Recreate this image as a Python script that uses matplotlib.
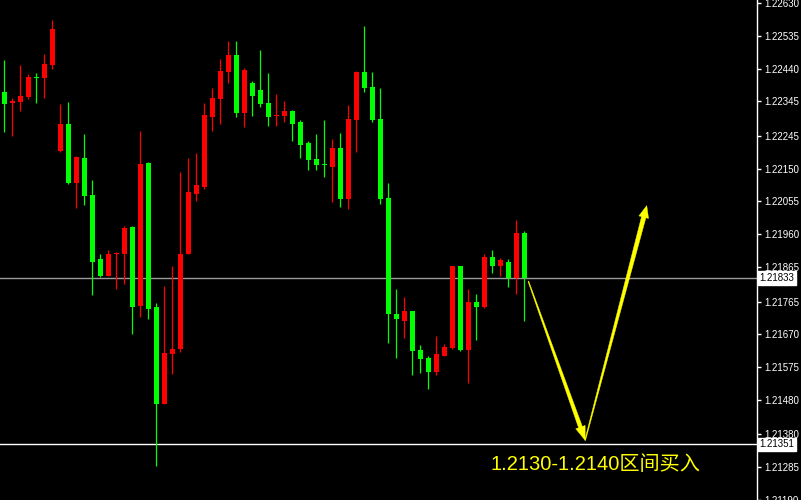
import numpy as np
import matplotlib
matplotlib.use("Agg")
import matplotlib.pyplot as plt
from matplotlib.patches import Polygon
from matplotlib.transforms import IdentityTransform

# ---- data ----
opens = [1.22373, 1.22341, 1.22344, 1.22358, 1.22416, 1.22413, 1.22451, 1.22202, 1.22280, 1.22109,
         1.22182, 1.22075, 1.21887, 1.21838, 1.21902, 1.21904, 1.21982, 1.21751, 1.22167, 1.21748,
         1.21467, 1.21612, 1.21627, 1.21904, 1.22078, 1.22098, 1.22300, 1.22352, 1.22430, 1.22480,
         1.22312, 1.22399, 1.22378, 1.22341, 1.22302, 1.22303, 1.22318, 1.22286, 1.22225, 1.22179,
         1.22163, 1.22156, 1.22211, 1.22063, 1.22292, 1.22430, 1.22387, 1.22295, 1.22066, 1.21728,
         1.21710, 1.21739, 1.21624, 1.21600, 1.21560, 1.21606, 1.21629, 1.21867, 1.21624, 1.21765,
         1.21748, 1.21895, 1.21869, 1.21881, 1.21833, 1.21965]
highs = [1.22465, 1.22355, 1.22451, 1.22425, 1.22428, 1.22483, 1.22581, 1.22338, 1.22344, 1.22188,
         1.22251, 1.22118, 1.21904, 1.21913, 1.21910, 1.21985, 1.21985, 1.22260, 1.22170, 1.21762,
         1.21809, 1.21869, 1.22141, 1.22182, 1.22196, 1.22341, 1.22384, 1.22468, 1.22520, 1.22520,
         1.22442, 1.22404, 1.22494, 1.22428, 1.22367, 1.22347, 1.22321, 1.22292, 1.22231, 1.22251,
         1.22292, 1.22237, 1.22254, 1.22335, 1.22433, 1.22564, 1.22430, 1.22384, 1.22109, 1.21800,
         1.21777, 1.21739, 1.21638, 1.21606, 1.21664, 1.21641, 1.21869, 1.21869, 1.21800, 1.21788,
         1.21904, 1.21913, 1.21890, 1.21887, 1.22002, 1.21968]
lows = [1.22257, 1.22245, 1.22318, 1.22352, 1.22341, 1.22355, 1.22439, 1.22199, 1.22107, 1.22037,
        1.22046, 1.21783, 1.21835, 1.21838, 1.21800, 1.21815, 1.21670, 1.21719, 1.21713, 1.21288,
        1.21467, 1.21554, 1.21618, 1.21904, 1.22057, 1.22092, 1.22260, 1.22280, 1.22399, 1.22300,
        1.22271, 1.22303, 1.22329, 1.22274, 1.22274, 1.22286, 1.22231, 1.22182, 1.22147, 1.22147,
        1.22127, 1.22052, 1.22040, 1.22034, 1.22199, 1.22373, 1.22286, 1.22049, 1.21644, 1.21600,
        1.21658, 1.21551, 1.21557, 1.21511, 1.21551, 1.21606, 1.21627, 1.21621, 1.21528, 1.21655,
        1.21745, 1.21849, 1.21838, 1.21806, 1.21786, 1.21710]
closes = [1.22338, 1.22344, 1.22361, 1.22416, 1.22413, 1.22454, 1.22555, 1.22280, 1.22109, 1.22185,
          1.22072, 1.21881, 1.21838, 1.21904, 1.21905, 1.21979, 1.21748, 1.22164, 1.21742, 1.21467,
          1.21615, 1.21627, 1.21904, 1.22083, 1.22104, 1.22306, 1.22355, 1.22433, 1.22480, 1.22312,
          1.22436, 1.22361, 1.22338, 1.22300, 1.22305, 1.22318, 1.22280, 1.22219, 1.22176, 1.22162,
          1.22160, 1.22211, 1.22063, 1.22295, 1.22430, 1.22384, 1.22292, 1.22063, 1.21728, 1.21713,
          1.21739, 1.21621, 1.21598, 1.21560, 1.21612, 1.21632, 1.21867, 1.21624, 1.21765, 1.21748,
          1.21893, 1.21869, 1.21884, 1.21833, 1.21965, 1.21833]

tick_prices = [1.22630, 1.22535, 1.22440, 1.22345, 1.22245, 1.22150, 1.22055, 1.21960,
               1.21865, 1.21765, 1.21670, 1.21575, 1.21480, 1.21380, 1.21285, 1.21190]
bid_price = 1.21833
support_price = 1.21351

arrow_down = [(65.5, 1.21824), (72.6, 1.21363)]
arrow_up = [(72.6, 1.21363), (80.3, 1.22043)]
note_text = "1.2130-1.2140区间买入"
note_pos = (60.8, 1.21276)

# ---- figure ----
W, H = 801, 500
fig = plt.figure(figsize=(W / 100, H / 100), dpi=100, facecolor="black")
ax = fig.add_axes([0, 0, 757 / W, 1])
ax.set_facecolor("black")
ax.set_xlim(-0.54, 94.08)
ax.set_ylim(1.211927, 1.226387)

o = np.array(opens); h = np.array(highs); l = np.array(lows); c = np.array(closes)
x = np.arange(len(o))
up = c >= o
colors = np.where(up, "#ff0000", "#00ff00")

ax.vlines(x, l, h, colors=colors, linewidth=0.9, zorder=3)
bottoms = np.minimum(o, c)
heights = np.maximum(np.abs(c - o), 0.00004)
ax.bar(x, heights, bottom=bottoms, width=0.62, color=colors, linewidth=0, zorder=4)

ax.axhline(bid_price, color="#9a9a9a", linewidth=1.0, zorder=2)
ax.axhline(support_price, color="white", linewidth=1.0, zorder=2)

# right price axis
for s in ["top", "left", "bottom"]:
    ax.spines[s].set_visible(False)
ax.spines["right"].set_color("white")
ax.spines["right"].set_linewidth(1.0)
ax.set_xticks([])
ax.yaxis.tick_right()
ax.set_yticks(tick_prices)
ax.set_yticklabels([f"{p:.5f}" for p in tick_prices])
ax.tick_params(axis="y", colors="white", length=3, width=1, pad=2, labelsize=7)
for t in ax.get_yticklabels():
    t.set_fontfamily("Liberation Sans")

ytr = ax.get_yaxis_transform()
for p in (bid_price, support_price):
    ax.text(1.0035, p, f"{p:.5f}", transform=ytr, ha="left", va="center",
            fontsize=7, family="Liberation Sans", color="black", zorder=10,
            bbox=dict(boxstyle="square,pad=0.18", facecolor="white", edgecolor="white"),
            clip_on=False)


def tapered_arrow(p0, p1, w0, w1, head_w, head_l, color):
    T = ax.transData
    a = np.array(T.transform(p0)); b = np.array(T.transform(p1))
    d = b - a
    u = d / np.hypot(*d)
    n = np.array([-u[1], u[0]])
    base = b - u * head_l
    pts = [a + n * w0 / 2, base + n * w1 / 2, base + n * head_w / 2, b,
           base - n * head_w / 2, base - n * w1 / 2, a - n * w0 / 2]
    poly = Polygon(pts, closed=True, facecolor=color, edgecolor=color, linewidth=0.3,
                   transform=IdentityTransform(), zorder=6)
    fig.add_artist(poly)


tapered_arrow(arrow_down[0], arrow_down[1], 0.8, 4.0, 10, 14, "#ffff00")
tapered_arrow(arrow_up[0], arrow_up[1], 0.8, 4.5, 10, 12, "#ffff00")

ax.text(note_pos[0], note_pos[1], note_text, color="#ffff00", fontsize=14.5,
        family=["Liberation Sans", "Noto Sans CJK SC"], ha="left", va="baseline", zorder=7)

fig.savefig("out.png", dpi=100, facecolor="black")
